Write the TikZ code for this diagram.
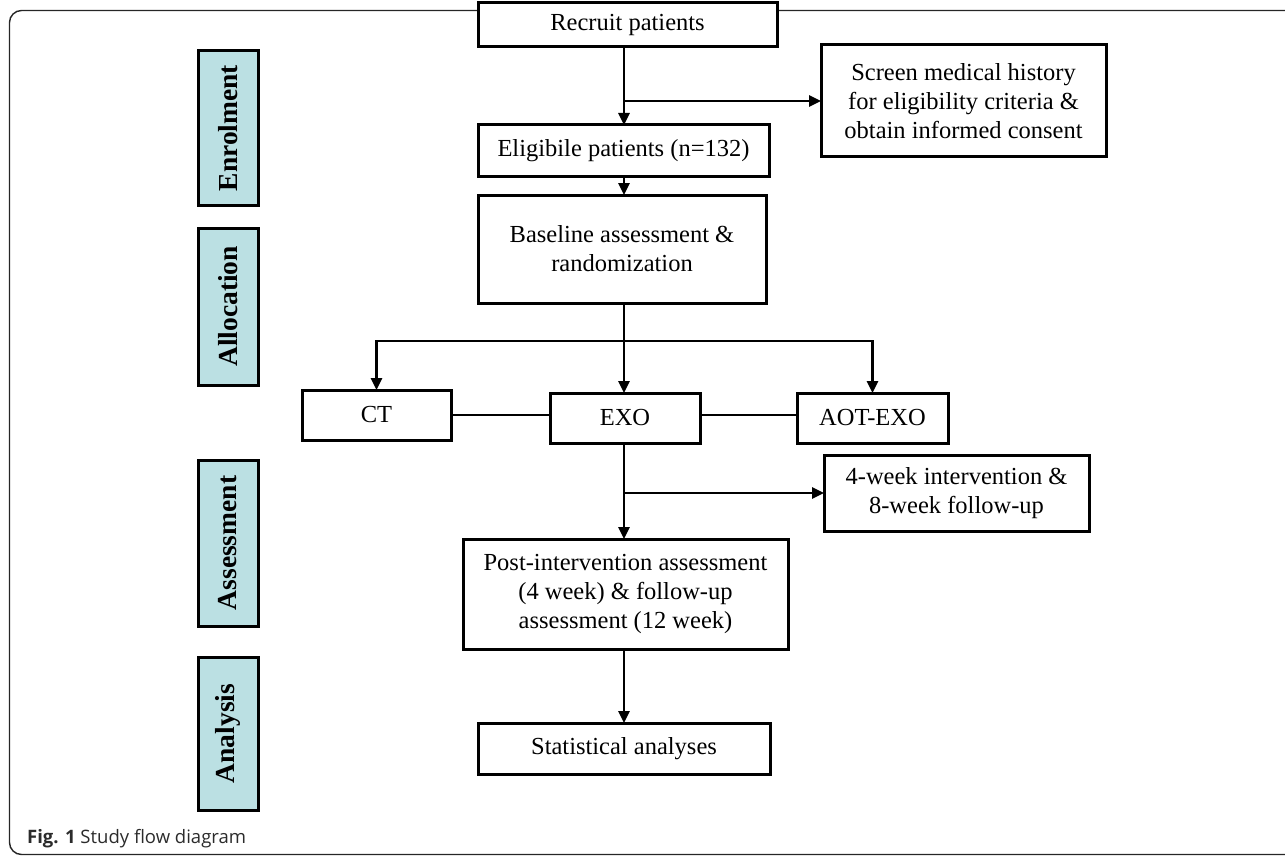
\documentclass[tikz,border=0pt]{standalone}
\usepackage{fontspec}
\setmainfont{Liberation Serif}
\newfontfamily\capfont{Open Sans}
\usetikzlibrary{arrows.meta}
\definecolor{sidefill}{HTML}{BBE0E3}
\definecolor{capgray}{HTML}{2B2B2B}
\begin{document}
\begin{tikzpicture}[x=1pt,y=-1pt,
  box/.style={draw, fill=white, line width=3pt, inner sep=0pt, outer sep=0pt, align=center,
              font=\fontsize{24.5}{29}\selectfont},
  side/.style={draw, line width=3pt, fill=sidefill, inner sep=0pt, outer sep=0pt,
               minimum height=60pt, rotate=90, font=\fontsize{27.5}{30}\bfseries\selectfont},
  link/.style={line width=2.7pt},
  arr/.style={link, -{Triangle[length=12pt,width=11pt]}}]
\useasboundingbox (0,0) rectangle (1285,856);
\begin{scope}
  \clip (0,0) rectangle (1285,856);
  \draw[line width=1.4pt, rounded corners=12pt, black!85] (9.5,10.5) rectangle (1330,854.5);
\end{scope}
% side labels
\node[side, minimum width=154pt] (senrol) at (228,128) {Enrolment};
\node[side, minimum width=157pt] (salloc) at (228,306.5) {Allocation};
\node[side, minimum width=166pt] (sassess) at (228,543) {Assessment};
\node[side, minimum width=153pt] (sanaly) at (228,733.5) {Analysis};
% main boxes
\node[box, minimum width=299pt, minimum height=44pt] (recruit) at (627.5,25) {Recruit patients};
\node[box, minimum width=285pt, minimum height=112pt] (screen) at (963.5,101)
  {Screen medical history\\for eligibility criteria \&\\obtain informed consent};
\node[box, minimum width=291pt, minimum height=51pt] (elig) at (623.5,150.5) {Eligibile patients (n=132)};
\node[box, minimum width=288pt, minimum height=108pt] (base) at (622,249) {Baseline assessment \&\\randomization};
\node[box, minimum width=149pt, minimum height=50pt] (ct) at (376.5,415) {CT};
\node[box, minimum width=150pt, minimum height=50pt] (exo) at (625,418) {EXO};
\node[box, minimum width=151pt, minimum height=50pt] (aot) at (872.5,418) {AOT-EXO};
\node[box, minimum width=265pt, minimum height=76pt] (four) at (956.5,493) {4-week intervention \&\\8-week follow-up};
\node[box, minimum width=325pt, minimum height=110pt] (post) at (625.5,594)
  {Post-intervention assessment\\(4 week) \& follow-up\\assessment (12 week)};
\node[box, minimum width=292pt, minimum height=51pt] (stat) at (624,748.5) {Statistical analyses};
% connectors
\coordinate (sp) at (624,0);
\coordinate (j1) at (624,101);
\coordinate (j2) at (624,341);
\coordinate (j3) at (624,493);
\draw[arr] (recruit.south -| sp) -- (elig.north -| sp);
\draw[arr] (j1) -- (j1 -| screen.west);
\draw[arr] (elig.south -| sp) -- (base.north -| sp);
\draw[arr] (base.south -| sp) -- (exo.north -| sp);
\draw[arr] (j2) -| (ct.north);
\draw[arr] (j2) -| (aot.north);
\draw[link] (ct.east) -- (ct.east -| exo.west);
\draw[link] (exo.east |- ct.east) -- (ct.east -| aot.west);
\draw[arr] (exo.south -| sp) -- (post.north -| sp);
\draw[arr] (j3) -- (four.west);
\draw[arr] (post.south -| sp) -- (stat.north -| sp);
% caption
\node[anchor=base west, inner sep=0pt, text=capgray, font=\capfont\fontsize{18.5}{22}\selectfont] (cap) at (27,843)
  {\textbf{Fig. 1} Study flow diagram};
\end{tikzpicture}
\end{document}
